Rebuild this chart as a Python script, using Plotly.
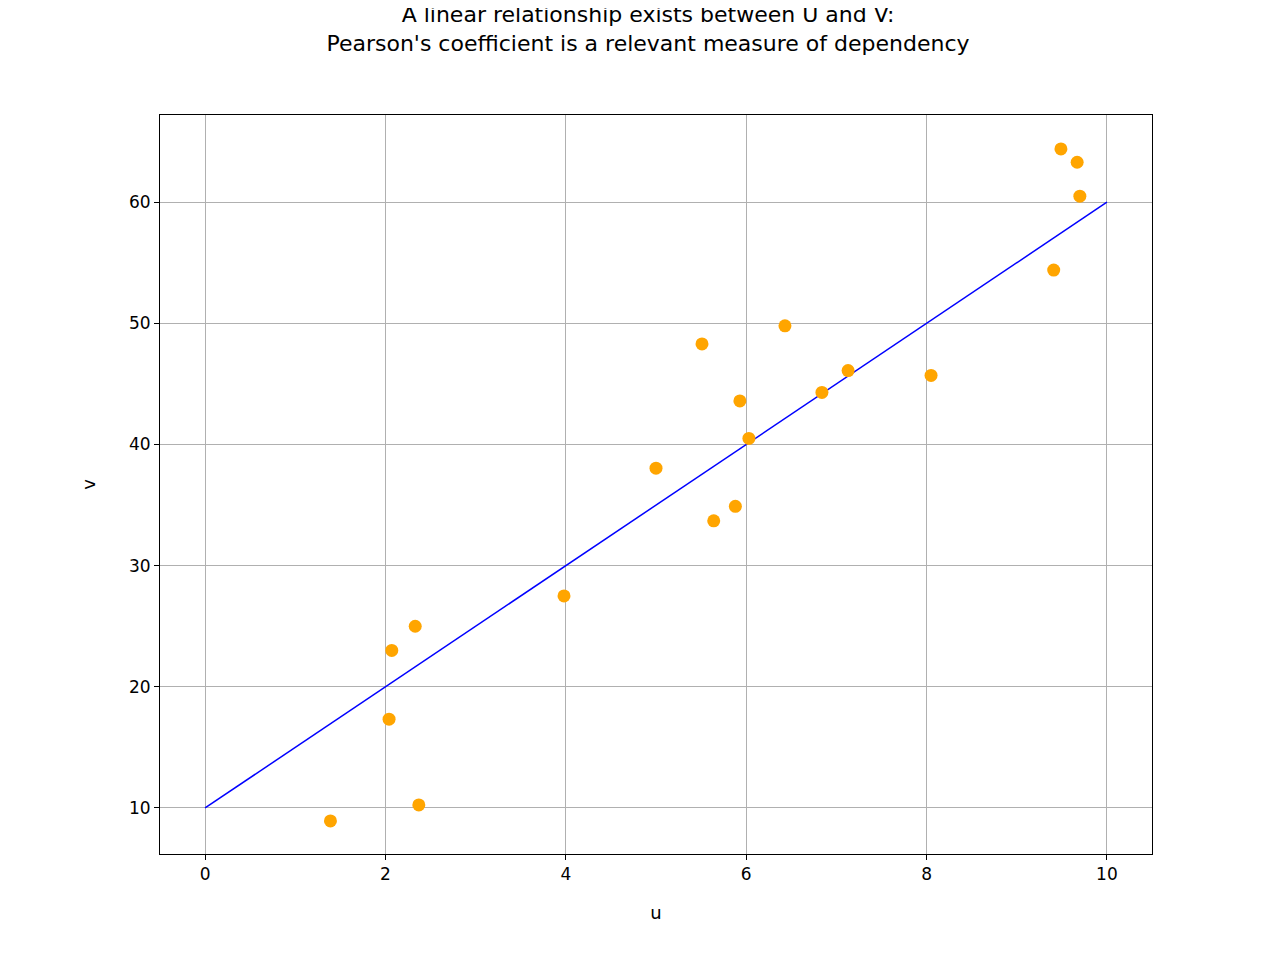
import plotly.graph_objects as go

u_values = [1.39, 2.37, 2.04, 2.07, 2.33, 3.98, 5.0, 5.51, 5.64, 5.88, 5.93, 6.03, 6.43, 6.84, 7.13, 8.05, 9.41, 9.49, 9.67, 9.70]
v_values = [8.93, 10.25, 17.33, 23.0, 25.0, 27.5, 38.05, 48.3, 33.7, 34.9, 43.6, 40.5, 49.8, 44.3, 46.1, 45.7, 54.4, 64.4, 63.3, 60.5]
line_u = [0, 10]
line_v = [10, 60]

fig = go.Figure()
fig.add_trace(go.Scatter(x=line_u, y=line_v, mode='lines', line=dict(color='blue', width=1.5), showlegend=False))
fig.add_trace(go.Scatter(x=u_values, y=v_values, mode='markers', marker=dict(color='orange', size=13), showlegend=False))

axis_style = dict(showgrid=True, gridcolor='#b0b0b0', gridwidth=1, zeroline=False, showline=True, linecolor='black',
                  mirror=True, ticks='outside', ticklen=5, tickcolor='black', tickfont=dict(size=17, color='black'))
fig.update_xaxes(range=[-0.5, 10.5], dtick=2, title=dict(text='u', font=dict(size=18, color='black'), standoff=22), **axis_style)
fig.update_yaxes(range=[6.2, 67.2], tickvals=[10, 20, 30, 40, 50, 60], title=dict(text='v', font=dict(size=18, color='black'), standoff=28), **axis_style)
fig.update_layout(
    width=1280, height=960,
    plot_bgcolor='white', paper_bgcolor='white',
    font=dict(family='DejaVu Sans'),
    margin=dict(l=152, r=136, t=107, b=114),
    title=dict(text="A linear relationship exists between U and V:<br>Pearson's coefficient is a relevant measure of dependency",
               x=0.5, xanchor='center', y=0.985, yanchor='top', font=dict(size=22, color='black')),
)
fig.write_html("out.html")
